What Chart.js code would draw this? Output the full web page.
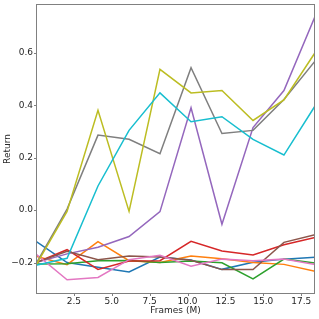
<!DOCTYPE html>
<html>
<head>
<meta charset="utf-8">
<script src="https://cdn.jsdelivr.net/npm/chart.js@4/dist/chart.umd.min.js"></script>
<style>
  html, body { margin: 0; padding: 0; background: #ffffff; }
  canvas { display: block; }
</style>
</head>
<body>
<canvas id="chart" width="319" height="319"></canvas>
<script>
// Frames (M) at which each run was evaluated
const frames = [0, 2.05, 4.09, 6.14, 8.18, 10.23, 12.27, 14.32, 16.36, 18.41];

// Return per run (one array per line, matplotlib tab10 order)
const run0 = [-0.119, -0.200, -0.218, -0.236, -0.179, -0.190, -0.226, -0.199, -0.187, -0.180];
const run1 = [-0.176, -0.208, -0.120, -0.193, -0.200, -0.175, -0.186, -0.200, -0.207, -0.233];
const run2 = [-0.206, -0.205, -0.193, -0.192, -0.200, -0.194, -0.201, -0.262, -0.187, -0.202];
const run3 = [-0.200, -0.151, -0.226, -0.194, -0.193, -0.119, -0.156, -0.171, -0.132, -0.104];
const run4 = [-0.200, -0.167, -0.142, -0.101, -0.006, 0.390, -0.054, 0.315, 0.456, 0.738];
const run5 = [-0.200, -0.157, -0.189, -0.175, -0.179, -0.191, -0.227, -0.227, -0.123, -0.094];
const run6 = [-0.168, -0.266, -0.257, -0.189, -0.172, -0.214, -0.187, -0.193, -0.187, -0.208];
const run7 = [-0.205, 0.004, 0.286, 0.270, 0.215, 0.543, 0.292, 0.304, 0.422, 0.568];
const run8 = [-0.210, -0.005, 0.381, -0.005, 0.537, 0.447, 0.456, 0.342, 0.420, 0.600];
const run9 = [-0.210, -0.184, 0.092, 0.304, 0.447, 0.337, 0.356, 0.270, 0.210, 0.397];

const runs = [run0, run1, run2, run3, run4, run5, run6, run7, run8, run9];
const colors = ['#1f77b4', '#ff7f0e', '#2ca02c', '#d62728', '#9467bd',
                '#8c564b', '#e377c2', '#7f7f7f', '#bcbd22', '#17becf'];

const xTicks = [2.5, 5.0, 7.5, 10.0, 12.5, 15.0, 17.5];
const yTicks = [-0.2, 0.0, 0.2, 0.4, 0.6];

const FONT = { family: 'DejaVu Sans', size: 9 };
const TEXT = '#262626';
const SPINE = '#808080';

// full box round the plot + small outward ticks, like matplotlib
const frameBox = {
  id: 'frameBox',
  afterDatasetsDraw(chart) {
    const { ctx, chartArea: a, scales } = chart;
    ctx.save();
    ctx.strokeStyle = SPINE;
    ctx.lineWidth = 1;
    ctx.strokeRect(a.left + 0.5, a.top + 0.5, a.right - a.left - 1, a.bottom - a.top - 1);
    ctx.beginPath();
    xTicks.forEach(v => {
      const px = Math.round(scales.x.getPixelForValue(v)) + 0.5;
      ctx.moveTo(px, a.bottom);
      ctx.lineTo(px, a.bottom + 2);
    });
    yTicks.forEach(v => {
      const py = Math.round(scales.y.getPixelForValue(v)) + 0.5;
      ctx.moveTo(a.left, py);
      ctx.lineTo(a.left - 2, py);
    });
    ctx.stroke();
    ctx.restore();
  }
};

new Chart(document.getElementById('chart'), {
  type: 'line',
  data: {
    datasets: runs.map((r, i) => ({
      label: 'run ' + i,
      data: frames.map((f, j) => ({ x: f, y: r[j] })),
      borderColor: colors[i],
      backgroundColor: colors[i],
      borderWidth: 1.5,
      pointRadius: 0,
      tension: 0,
      fill: false,
      order: runs.length - i, // later runs on top
    })),
  },
  options: {
    responsive: false,
    animation: false,
    layout: { padding: { top: 4, right: 4, left: 0, bottom: 0 } },
    plugins: {
      legend: { display: false },
      tooltip: { enabled: false },
    },
    scales: {
      x: {
        type: 'linear',
        min: 0,
        max: 18.41,
        afterBuildTicks: (s) => { s.ticks = xTicks.map(v => ({ value: v })); },
        afterFit: (s) => { s.height = 25; s.paddingLeft = 0; s.paddingRight = 0; },
        grid: { display: false, drawTicks: false },
        border: { display: false },
        ticks: {
          color: TEXT,
          font: FONT,
          padding: 2,
          maxRotation: 0,
          autoSkip: false,
          callback: (v) => v.toFixed(1),
        },
        title: {
          display: true,
          text: 'Frames (M)',
          color: TEXT,
          font: FONT,
          padding: { top: 0, bottom: 3 },
        },
      },
      y: {
        min: -0.32,
        max: 0.786,
        afterBuildTicks: (s) => { s.ticks = yTicks.map(v => ({ value: v })); },
        afterFit: (s) => { s.width = 36; s.paddingTop = 0; s.paddingBottom = 0; },
        grid: { display: false, drawTicks: false },
        border: { display: false },
        ticks: {
          color: TEXT,
          font: FONT,
          padding: 3,
          autoSkip: false,
          callback: (v) => (v < 0 ? '\u2212' : '') + Math.abs(v).toFixed(1),
        },
        title: {
          display: true,
          text: 'Return',
          color: TEXT,
          font: FONT,
          padding: { top: 2, bottom: 0 },
        },
      },
    },
  },
  plugins: [frameBox],
});
</script>
</body>
</html>
